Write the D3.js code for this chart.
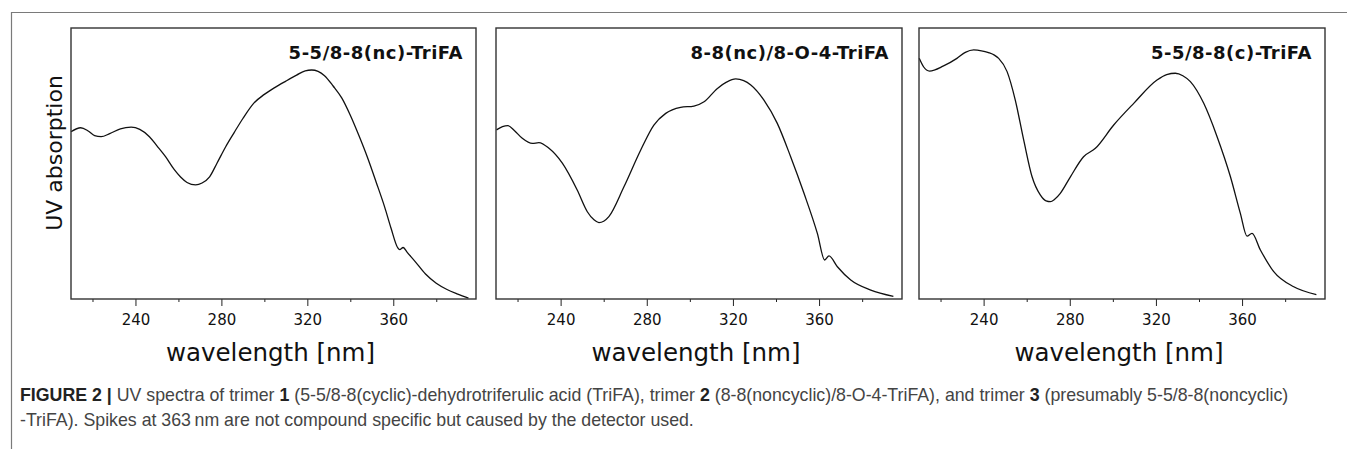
<!DOCTYPE html>
<html>
<head>
<meta charset="utf-8">
<script src="https://cdn.jsdelivr.net/npm/d3@7"></script>
<style>
  html, body { margin: 0; padding: 0; background: #fff; }
  svg { display: block; }
</style>
</head>
<body>
<div id="chart"></div>
<script>
// Spectra: [wavelength nm, relative absorption 0..1]
const spectrumNc = [
  [210, 0.617], [214.5, 0.632], [218, 0.620], [221, 0.603], [224, 0.599], [228, 0.610],
  [233, 0.628], [238, 0.634], [242, 0.626], [246.5, 0.599], [250, 0.565], [254, 0.525],
  [258, 0.478], [261, 0.450], [264, 0.430], [268, 0.421], [271, 0.428], [274.5, 0.451],
  [278, 0.502], [282, 0.562], [286, 0.615], [290, 0.666], [295, 0.722], [300, 0.755],
  [305, 0.781], [310, 0.804], [315, 0.826], [319, 0.842], [322, 0.845], [325, 0.840], [328, 0.824],
  [332, 0.786], [336, 0.742], [340, 0.678], [344, 0.603], [348, 0.522], [352, 0.432],
  [356, 0.339], [359, 0.260], [362, 0.190], [363, 0.182], [364.6, 0.190], [366.5, 0.172],
  [370, 0.140], [375, 0.092], [380, 0.058], [385, 0.035], [390, 0.018], [395, 0.003]
];

const spectrum8O4 = [
  [210.2, 0.624], [213, 0.636], [215.5, 0.640], [218.5, 0.622], [222.2, 0.593], [226.9, 0.574],
  [229.9, 0.577], [234.6, 0.556], [240.8, 0.501], [247.7, 0.402], [252.4, 0.322], [255.5, 0.292],
  [257.8, 0.282], [260, 0.287], [262.4, 0.304], [269.4, 0.414], [277.2, 0.550], [283.3, 0.642],
  [288.8, 0.685], [295.7, 0.707], [301.9, 0.712], [306.6, 0.728], [312.8, 0.777], [317, 0.800],
  [321.3, 0.812], [325, 0.806], [328.3, 0.790], [334.4, 0.734], [340.6, 0.648], [346.8, 0.525],
  [353, 0.390], [359.2, 0.242], [362.6, 0.144], [364.6, 0.159], [368.5, 0.119], [374.7, 0.070],
  [384, 0.033], [394.5, 0.010]
];

const spectrumC = [
  [210.1, 0.888], [212.1, 0.857], [214.9, 0.841], [221.4, 0.860], [227.6, 0.888], [231.5, 0.910],
  [235.4, 0.919], [239, 0.916], [242.3, 0.909], [245, 0.900], [247, 0.888], [250.9, 0.839],
  [254.7, 0.734], [258.6, 0.587], [262.5, 0.451], [266.3, 0.384], [269, 0.362], [271, 0.359],
  [273, 0.368], [275.6, 0.390], [280.3, 0.451], [286.4, 0.525], [291.9, 0.556], [300.4, 0.642],
  [309.7, 0.722], [320.5, 0.808], [325, 0.828], [329, 0.833], [332.5, 0.824], [336, 0.802],
  [342.2, 0.722], [348.4, 0.599], [354.6, 0.451], [359.2, 0.316], [362.3, 0.232], [364.6, 0.242],
  [368.5, 0.181], [374.7, 0.101], [384, 0.045], [394.5, 0.016]
];

const panelTitles = ['5-5/8-8(nc)-TriFA', '8-8(nc)/8-O-4-TriFA', '5-5/8-8(c)-TriFA'];
const majorTicks = [240, 280, 320, 360];
const minorTicks = [220, 260, 300, 340, 380];

// Layout
const WIDTH = 1347;
const HEIGHT = 449;
const PANELS = [
  { left: 71, right: 476, data: spectrumNc, title: panelTitles[0] },
  { left: 496, right: 902, data: spectrum8O4, title: panelTitles[1] },
  { left: 919, right: 1325, data: spectrumC, title: panelTitles[2] }
];
const PLOT_TOP = 28;
const PLOT_BOTTOM = 299;
const PANEL_FONT = '"DejaVu Sans", Verdana, sans-serif';
const CAPTION_FONT = '"Liberation Sans", Arial, sans-serif';

const svg = d3.select('#chart')
  .append('svg')
  .attr('width', WIDTH)
  .attr('height', HEIGHT);

// outer figure frame: top and left rules only
svg.append('path')
  .attr('d', `M11.5,${HEIGHT} V12.5 H${WIDTH}`)
  .attr('fill', 'none')
  .attr('stroke', '#7a7a7a')
  .attr('stroke-width', 1.2);

const y = d3.scaleLinear().domain([0, 1]).range([PLOT_BOTTOM, PLOT_TOP]);

PANELS.forEach((p, i) => {
  const x = d3.scaleLinear().domain([210, 398.5]).range([p.left, p.right]);
  const g = svg.append('g').attr('class', 'panel');

  // major ticks with labels
  const major = g.append('g')
    .attr('transform', `translate(0,${PLOT_BOTTOM})`)
    .call(d3.axisBottom(x).tickValues(majorTicks).tickSize(7).tickFormat(d3.format('d')));
  major.select('.domain').remove();
  major.selectAll('line').attr('stroke', '#222');
  major.selectAll('text')
    .attr('y', 15)
    .attr('fill', '#111')
    .style('font-family', PANEL_FONT)
    .style('font-size', '15px');

  // minor ticks
  const minor = g.append('g')
    .attr('transform', `translate(0,${PLOT_BOTTOM})`)
    .call(d3.axisBottom(x).tickValues(minorTicks).tickSize(3).tickFormat(''));
  minor.select('.domain').remove();
  minor.selectAll('line').attr('stroke', '#222');

  // spectrum
  const line = d3.line()
    .x(d => x(d[0]))
    .y(d => y(d[1]))
    .curve(d3.curveMonotoneX);

  g.append('path')
    .datum(p.data)
    .attr('d', line)
    .attr('fill', 'none')
    .attr('stroke', '#111')
    .attr('stroke-width', 1.3);

  // plot box
  g.append('rect')
    .attr('x', p.left)
    .attr('y', PLOT_TOP)
    .attr('width', p.right - p.left)
    .attr('height', PLOT_BOTTOM - PLOT_TOP)
    .attr('fill', 'none')
    .attr('stroke', '#333')
    .attr('stroke-width', 1.4);

  // compound name
  g.append('text')
    .attr('x', p.right - 13)
    .attr('y', 59)
    .attr('text-anchor', 'end')
    .style('font-family', PANEL_FONT)
    .style('font-weight', 'bold')
    .style('font-size', '18px')
    .style('letter-spacing', '0.5px')
    .attr('fill', '#111')
    .text(p.title);

  // x axis title
  g.append('text')
    .attr('x', (p.left + p.right) / 2 - 3)
    .attr('y', 361)
    .attr('text-anchor', 'middle')
    .style('font-family', PANEL_FONT)
    .style('font-size', '24.5px')
    .attr('fill', '#111')
    .text('wavelength [nm]');
});

// y axis title (first panel only)
svg.append('text')
  .attr('transform', 'translate(62,153) rotate(-90)')
  .attr('text-anchor', 'middle')
  .style('font-family', PANEL_FONT)
  .style('font-size', '22px')
  .attr('fill', '#111')
  .text('UV absorption');

// caption, two lines, with bold parts
const captionLines = [
  [['FIGURE 2 | ', true], ['UV spectra of trimer ', false], ['1', true],
   [' (5-5/8-8(cyclic)-dehydrotriferulic acid (TriFA), trimer ', false], ['2', true],
   [' (8-8(noncyclic)/8-O-4-TriFA), and trimer ', false], ['3', true],
   [' (presumably 5-5/8-8(noncyclic)', false]],
  [['-TriFA). Spikes at 363\u2009nm are not compound specific but caused by the detector used.', false]]
];
const captionY = [401, 426];

captionLines.forEach((parts, i) => {
  const t = svg.append('text')
    .attr('x', 20)
    .attr('y', captionY[i])
    .style('font-family', CAPTION_FONT)
    .style('font-size', '14px')
    .attr('fill', '#444');
  parts.forEach(([str, bold]) => {
    t.append('tspan')
      .style('font-weight', bold ? 'bold' : 'normal')
      .attr('fill', bold ? '#222' : '#444')
      .text(str);
  });
});

// scale caption font so line 1 spans the same width as in the figure
const first = svg.selectAll('text').filter(function () { return this.getAttribute('y') == captionY[0]; }).node();
if (first) {
  const w = first.getComputedTextLength();
  const size = 14 * (1289 - 20) / w;
  svg.selectAll('text').filter(function () {
    const yy = +this.getAttribute('y');
    return yy === captionY[0] || yy === captionY[1];
  }).style('font-size', size + 'px');
}
</script>
</body>
</html>
